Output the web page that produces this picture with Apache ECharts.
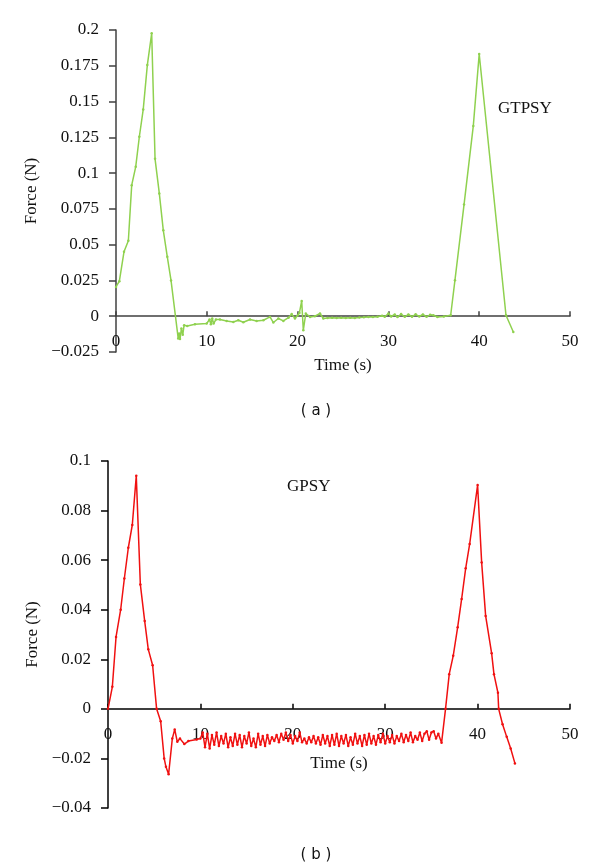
<!DOCTYPE html>
<html>
<head>
<meta charset="utf-8">
<script src="https://cdn.jsdelivr.net/npm/echarts@6/dist/echarts.min.js"></script>
<style>html,body{margin:0;padding:0;background:#fff}#c{width:600px;height:868px}</style>
</head>
<body>
<div id="c"></div>
<script>
// ---- Data (a) GTPSY ----
const gtpsyTime = [0,0.37,0.88,1.36,1.73,2.17,2.57,3.0,3.45,3.93,4.3,4.77,5.21,5.65,6.06,6.85,6.95,7.05,7.2,7.35,7.5,7.85,8.7,9.99,10.3,10.45,10.6,10.75,11.0,11.45,12.19,12.92,13.47,14.02,14.76,15.49,16.23,16.96,17.33,17.88,18.43,19.0,19.35,19.71,20.0,20.2,20.45,20.63,20.9,21.37,21.9,22.47,22.83,23.3,23.8,24.3,24.8,25.3,25.8,26.3,26.8,27.3,27.8,28.3,28.8,29.3,29.6,30.0,30.3,30.7,31.0,31.4,31.8,32.2,32.6,33.0,33.4,33.8,34.2,34.6,34.95,35.4,36.1,36.86,37.33,38.33,39.35,40.0,42.95,43.76];
const gtpsyForce = [0.0205,0.0245,0.045,0.0527,0.0916,0.1044,0.1254,0.1445,0.1755,0.1977,0.110,0.0858,0.060,0.0415,0.025,-0.0155,-0.012,-0.016,-0.0086,-0.013,-0.0063,-0.0068,-0.0056,-0.0051,-0.0023,-0.0056,-0.0016,-0.0051,-0.0023,-0.0023,-0.0033,-0.004,-0.0028,-0.0042,-0.0023,-0.0033,-0.0028,-0.0005,-0.0044,-0.0016,-0.0033,-0.001,0.0015,-0.0016,0.0005,0.0023,0.0107,-0.0098,0.0019,-0.0005,0.0,0.0019,-0.0016,-0.0012,-0.001,-0.0013,-0.0011,-0.0012,-0.001,-0.0012,-0.0009,-0.0008,-0.0006,-0.0005,-0.0003,0.0003,-0.0004,0.0019,-0.0002,0.0012,-0.0006,0.0015,-0.0004,0.0012,-0.0003,0.0013,-0.0002,0.0012,-0.0004,0.001,0.0007,-0.0005,-0.0002,0.0007,0.0252,0.078,0.133,0.1832,0.0007,-0.011];

// ---- Data (b) GPSY ----
const gpsyTime = [0,0.47,0.87,1.37,1.77,2.2,2.63,3.06,3.5,3.97,4.36,4.83,5.26,5.7,6.08,6.27,6.56,6.96,7.22,7.5,7.79,8.26,8.7,9.6,
10.0,10.25,10.5,10.75,11.0,11.25,11.5,11.75,12.0,12.25,12.5,12.75,13.0,13.25,13.5,13.75,14.0,14.25,14.5,14.75,15.0,15.25,15.5,15.75,16.0,16.25,16.5,16.75,17.0,17.25,17.5,17.75,18.0,18.25,18.5,18.75,19.0,19.25,19.5,19.75,20.0,20.25,20.5,20.75,21.0,21.25,21.5,21.75,22.0,22.25,22.5,22.75,23.0,23.25,23.5,23.75,24.0,24.25,24.5,24.75,25.0,25.25,25.5,25.75,26.0,26.25,26.5,26.75,27.0,27.25,27.5,27.75,28.0,28.25,28.5,28.75,29.0,29.25,29.5,29.75,30.0,30.25,30.5,30.75,31.0,31.25,31.5,31.75,32.0,32.25,32.5,32.75,33.0,33.25,33.5,33.75,34.0,34.25,34.5,34.75,35.0,35.25,35.5,35.75,
36.1,36.53,36.93,37.36,37.84,38.27,38.71,39.14,40.0,40.44,40.87,41.52,41.77,42.2,42.28,42.7,43.15,43.58,44.04];
const gpsyForce = [0,0.0089,0.029,0.040,0.0526,0.065,0.0742,0.094,0.0502,0.0354,0.024,0.0176,0.0,-0.005,-0.020,-0.0234,-0.0264,-0.012,-0.0083,-0.0133,-0.012,-0.0142,-0.013,-0.0124,
-0.0120,-0.0095,-0.0155,-0.0100,-0.0160,-0.0105,-0.0145,-0.0095,-0.0150,-0.0110,-0.0140,-0.0100,-0.0155,-0.0115,-0.0150,-0.0100,-0.0145,-0.0105,-0.0155,-0.0110,-0.0140,-0.0095,-0.0150,-0.0120,-0.0155,-0.0100,-0.0145,-0.0110,-0.0150,-0.0105,-0.0140,-0.0115,-0.0130,-0.0105,-0.0135,-0.0100,-0.0125,-0.0095,-0.0130,-0.0105,-0.0140,-0.0110,-0.0130,-0.0095,-0.0135,-0.0120,-0.0140,-0.0115,-0.0135,-0.0110,-0.0140,-0.0115,-0.0145,-0.0105,-0.0140,-0.0110,-0.0150,-0.0105,-0.0145,-0.0100,-0.0150,-0.0110,-0.0140,-0.0105,-0.0150,-0.0115,-0.0145,-0.0100,-0.0140,-0.0110,-0.0150,-0.0105,-0.0145,-0.0100,-0.0140,-0.0110,-0.0145,-0.0105,-0.0135,-0.0100,-0.0140,-0.0110,-0.0135,-0.0105,-0.0140,-0.0110,-0.0130,-0.0100,-0.0135,-0.0105,-0.0130,-0.0095,-0.0135,-0.0110,-0.0125,-0.0095,-0.0130,-0.0100,-0.0090,-0.0125,-0.0095,-0.0090,-0.0120,-0.0100,
-0.0137,0,0.014,0.0214,0.0329,0.0443,0.0567,0.0665,0.0903,0.059,0.0375,0.0224,0.014,0.0065,0,-0.0062,-0.0113,-0.016,-0.022];

const xTicks = {min: 0, max: 50, interval: 10};
const yTicksA = {min: -0.025, max: 0.2, interval: 0.025};
const yTicksB = {min: -0.04, max: 0.1, interval: 0.02};
const labelA = 'GTPSY', labelB = 'GPSY';
const xName = 'Time (s)', yName = 'Force (N)';

const pair = (t, v) => t.map((x, i) => [x, v[i]]);
const serif = 'Liberation Serif';
const fmtY = v => { const s = String(parseFloat(v.toFixed(3))); return s.replace('-', '\u2212'); };

const gridA = {left: 116, right: 30, top: 30, height: 322};
const gridB = {left: 108, right: 30, top: 461, height: 347};
// x axis sits on the zero line: shift it up from the grid bottom
const zeroOffset = (g, t) => -g.height * (0 - t.min) / (t.max - t.min);

function xAxis(grid, color, gap, offset) {
  return {
    type: 'value', gridIndex: grid, min: xTicks.min, max: xTicks.max, interval: xTicks.interval,
    position: 'bottom', offset: offset,
    name: xName, nameLocation: 'middle', nameGap: gap,
    nameTextStyle: {fontFamily: serif, fontSize: 17, color: '#111'},
    axisLine: {onZero: false, lineStyle: {color: color, width: 1.5}},
    axisTick: {inside: true, length: 5, lineStyle: {color: color, width: 1.5}},
    axisLabel: {margin: 17, fontFamily: serif, fontSize: 17, color: '#111'},
    splitLine: {show: false}
  };
}
function yAxis(grid, t, color, gap) {
  return {
    type: 'value', gridIndex: grid, min: t.min, max: t.max, interval: t.interval,
    name: yName, nameLocation: 'middle', nameGap: gap, nameRotate: 90,
    nameTextStyle: {fontFamily: serif, fontSize: 17, color: '#111'},
    axisLine: {show: true, onZero: false, lineStyle: {color: color, width: 1.5}},
    axisTick: {show: true, inside: false, length: 7, lineStyle: {color: color, width: 1.5}},
    axisLabel: {margin: 17, fontFamily: serif, fontSize: 17, color: '#111', formatter: fmtY},
    splitLine: {show: false}
  };
}

const chart = echarts.init(document.getElementById('c'), null, {renderer: 'canvas'});
chart.setOption({
  backgroundColor: '#fff',
  animation: false,
  grid: [gridA, gridB],
  xAxis: [xAxis(0, '#404040', 41, zeroOffset(gridA, yTicksA)), xAxis(1, '#000', 46, zeroOffset(gridB, yTicksB))],
  yAxis: [yAxis(0, yTicksA, '#404040', 72), yAxis(1, yTicksB, '#000', 64)],
  series: [
    {type: 'line', xAxisIndex: 0, yAxisIndex: 0, data: pair(gtpsyTime, gtpsyForce),
     symbol: 'circle', symbolSize: 2.5, showSymbol: true,
     lineStyle: {color: '#8fd14f', width: 1.5}, itemStyle: {color: '#8fd14f'}},
    {type: 'line', xAxisIndex: 1, yAxisIndex: 1, data: pair(gpsyTime, gpsyForce),
     symbol: 'circle', symbolSize: 2.5, showSymbol: true,
     lineStyle: {color: '#f01010', width: 1.5}, itemStyle: {color: '#f01010'}}
  ],
  graphic: [
    {type: 'text', x: 498, y: 109, style: {text: labelA, fontFamily: serif, fontSize: 17, fill: '#111', textVerticalAlign: 'middle'}},
    {type: 'text', x: 287, y: 487, style: {text: labelB, fontFamily: serif, fontSize: 17, fill: '#111', textVerticalAlign: 'middle'}},
    {type: 'text', x: 316, y: 411, style: {text: '( a )', fontFamily: 'DejaVu Sans', fontSize: 15, fill: '#111', textAlign: 'center', textVerticalAlign: 'middle'}},
    {type: 'text', x: 316, y: 855, style: {text: '( b )', fontFamily: 'DejaVu Sans', fontSize: 15, fill: '#111', textAlign: 'center', textVerticalAlign: 'middle'}}
  ]
});
</script>
</body>
</html>
